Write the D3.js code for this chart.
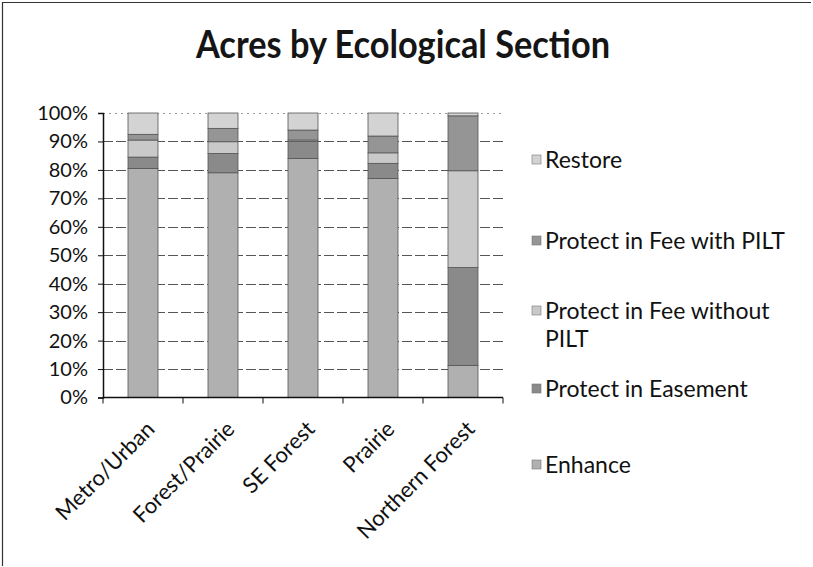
<!DOCTYPE html>
<html>
<head>
<meta charset="utf-8">
<script src="https://cdn.jsdelivr.net/npm/d3@7"></script>
<style>
  body { margin: 0; background: #fff; }
  svg { font-family: Lato, "Open Sans", sans-serif; }
</style>
</head>
<body>
<svg width="813" height="567"></svg>
<script>
// categories along the x axis
var categories = ["Metro/Urban", "Forest/Prairie", "SE Forest", "Prairie", "Northern Forest"];

// series, bottom to top of each stack (percent of acres)
var enhance     = [80.5, 79.0, 84.0, 77.0, 11.3];
var easement    = [ 4.0,  6.8,  6.0,  5.3, 34.4];
var feeNoPilt   = [ 6.0,  4.1,  0.5,  3.7, 34.0];
var feePilt     = [ 2.0,  4.7,  3.5,  5.9, 19.3];
var restore     = [ 7.5,  5.4,  6.0,  8.1,  1.0];

var seriesNames = ["Enhance", "Protect in Easement", "Protect in Fee without PILT", "Protect in Fee with PILT", "Restore"];
var yTicks = [0, 0.1, 0.2, 0.3, 0.4, 0.5, 0.6, 0.7, 0.8, 0.9, 1];

var colors = ["#b0b0b0", "#8a8a8a", "#c9c9c9", "#959595", "#d3d3d3"];

var svg = d3.select("svg");

// table built for d3.stack
var table = categories.map(function(c, i) {
  return {
    cat: c,
    "Enhance": enhance[i],
    "Protect in Easement": easement[i],
    "Protect in Fee without PILT": feeNoPilt[i],
    "Protect in Fee with PILT": feePilt[i],
    "Restore": restore[i]
  };
});

var stacked = d3.stack()
    .keys(seriesNames)
    .offset(d3.stackOffsetExpand)(table);

var x = d3.scaleBand()
    .domain(categories)
    .range([103, 503])
    .paddingInner(0.625)
    .paddingOuter(0.3125);

var y = d3.scaleLinear()
    .domain([0, 1])
    .range([397.5, 113]);

// outer frame of the chart area
svg.append("path")
    .attr("d", "M2.5,566 L2.5,2.5 L811,2.5")
    .attr("fill", "none")
    .attr("stroke", "#333")
    .attr("stroke-width", 1.2);

// title
svg.append("text")
    .attr("x", 403)
    .attr("y", 58)
    .attr("text-anchor", "middle")
    .attr("font-size", 39)
    .attr("font-weight", "bold")
    .attr("fill", "#151515")
    .attr("textLength", 414)
    .attr("lengthAdjust", "spacingAndGlyphs")
    .text("Acres by Ecological Section");

// gridlines
svg.append("g")
  .selectAll("line")
  .data(yTicks.slice(1))
  .join("line")
    .attr("x1", 103)
    .attr("x2", 503)
    .attr("y1", d => Math.round(y(d)) + 0.5)
    .attr("y2", d => Math.round(y(d)) + 0.5)
    .attr("stroke", d => d === 1 ? "#999" : "#555")
    .attr("stroke-width", 1)
    .attr("stroke-dasharray", d => d === 1 ? "2,4" : "10,3");

// bars
svg.append("g")
  .selectAll("g")
  .data(stacked)
  .join("g")
    .attr("fill", (d, i) => colors[i])
  .selectAll("rect")
  .data(d => d)
  .join("rect")
    .attr("x", d => x(d.data.cat))
    .attr("y", d => y(d[1]))
    .attr("width", x.bandwidth())
    .attr("height", d => y(d[0]) - y(d[1]))
    .attr("stroke", "#555")
    .attr("stroke-width", 0.8);

// y axis
var yAxis = svg.append("g")
    .attr("transform", "translate(103,0)")
    .call(d3.axisLeft(y).tickValues(yTicks).tickFormat(d3.format(".0%")).tickSizeOuter(0).tickSize(5));
yAxis.select(".domain").attr("stroke", "#111").attr("stroke-width", 1.5);
yAxis.selectAll(".tick line").attr("stroke", "#111");
yAxis.selectAll(".tick text")
    .attr("font-size", 20)
    .attr("fill", "#111")
    .attr("x", -15)
    .attr("font-family", "Lato, sans-serif");

// x axis with ticks between categories
var xAxisG = svg.append("g")
    .attr("transform", "translate(0,397.5)");
xAxisG.append("line")
    .attr("x1", 103).attr("x2", 503)
    .attr("stroke", "#111").attr("stroke-width", 1.5);
xAxisG.selectAll(".tk")
  .data(d3.range(categories.length + 1))
  .join("line")
    .attr("class", "tk")
    .attr("x1", i => 103 + i * x.step())
    .attr("x2", i => 103 + i * x.step())
    .attr("y1", 0).attr("y2", 6)
    .attr("stroke", "#111");

xAxisG.selectAll("text")
  .data(categories)
  .join("text")
    .attr("transform", d => "translate(" + (x(d) + x.bandwidth() / 2 + 13) + ",33) rotate(-45)")
    .attr("text-anchor", "end")
    .attr("font-size", 22)
    .attr("fill", "#111")
    .text(d => d);

// legend, top series first
var legendItems = [
  { color: colors[4], y: 160, lines: ["Restore"] },
  { color: colors[3], y: 241, lines: ["Protect in Fee with PILT"] },
  { color: colors[2], y: 311, lines: ["Protect in Fee without", "PILT"] },
  { color: colors[1], y: 389, lines: ["Protect in Easement"] },
  { color: colors[0], y: 465, lines: ["Enhance"] }
];

var legend = svg.append("g")
  .selectAll("g")
  .data(legendItems)
  .join("g")
    .attr("transform", d => "translate(532," + d.y + ")");

legend.append("rect")
    .attr("x", 0).attr("y", -5)
    .attr("width", 9).attr("height", 9)
    .attr("fill", d => d.color)
    .attr("stroke", "#777")
    .attr("stroke-width", 0.6);

legend.append("text")
    .attr("y", 8)
    .attr("font-size", 23)
    .attr("fill", "#111")
  .selectAll("tspan")
  .data(d => d.lines)
  .join("tspan")
    .attr("x", 13)
    .attr("dy", (d, i) => i === 0 ? 0 : 28)
    .text(d => d);
</script>
</body>
</html>
